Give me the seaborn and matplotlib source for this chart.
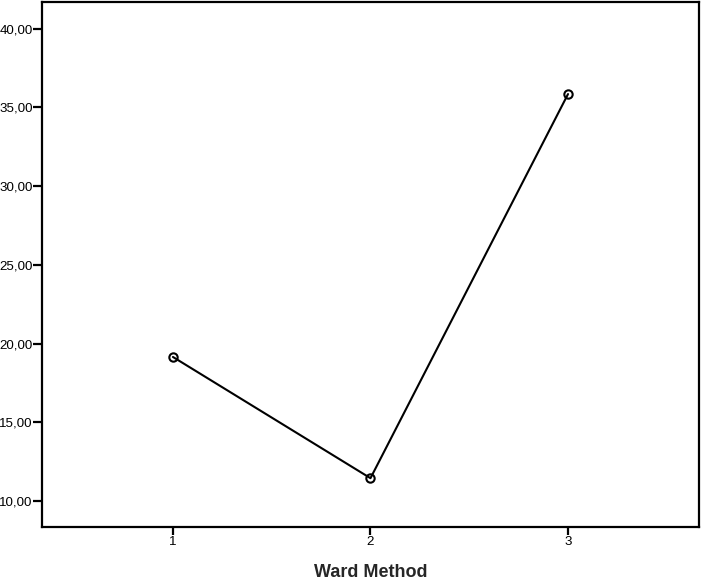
import pandas as pd
import numpy as np
import matplotlib
matplotlib.use("Agg")
import matplotlib.pyplot as plt
from matplotlib.ticker import FuncFormatter
import seaborn as sns

# Cluster number (Ward Method) and mean value per cluster
clusters = [1, 2, 3]
means = [19.15, 11.45, 35.85]
y_ticks = [10, 15, 20, 25, 30, 35, 40]

df = pd.DataFrame({'Ward Method': clusters, 'Mean': means})

sns.set_style('ticks')
plt.rcParams['font.family'] = ['Liberation Sans', 'DejaVu Sans']

fig = plt.figure(figsize=(7.02, 5.8), dpi=100)
ax = fig.add_axes([0.0598, 0.0914, 0.9359, 0.9052])

sns.lineplot(data=df, x='Ward Method', y='Mean', ax=ax, color='black', linewidth=1.5,
             marker='o', markersize=6, markerfacecolor='none', markeredgecolor='black',
             markeredgewidth=1.5)

ax.set_xlim(0.337, 3.663)
ax.set_ylim(8.35, 41.7)
ax.set_xticks(clusters)
ax.set_yticks(y_ticks)
ax.yaxis.set_major_formatter(FuncFormatter(lambda v, p: f"{v:.2f}".replace('.', ',')))

# SPSS-like frame
for side in ['left', 'right', 'top', 'bottom']:
    ax.spines[side].set_visible(True)
    ax.spines[side].set_color('black')
    ax.spines[side].set_linewidth(1.6)
ax.tick_params(axis='both', direction='out', length=6, width=1.6, color='black',
               labelsize=9.6, labelcolor='black', pad=0.3)
ax.tick_params(axis='y', length=6.5)

ax.set_xlabel('Ward Method', fontsize=13, fontweight='bold', labelpad=11.5)
ax.set_ylabel('')

plt.savefig('out.png', dpi=100)
